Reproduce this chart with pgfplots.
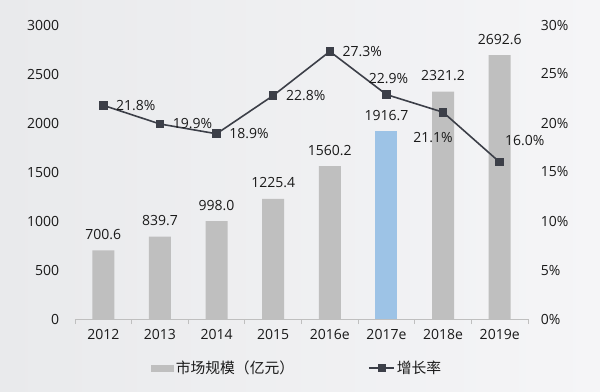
\documentclass[border=0pt]{standalone}
\usepackage{pgfplots}
\pgfplotsset{compat=1.18}
\usepackage{fontspec}
\setmainfont{Open Sans}
\newfontfamily\cjk{Noto Sans CJK SC}
\definecolor{barGray}{HTML}{BFBFBF}
\definecolor{barBlue}{HTML}{9DC3E6}
\definecolor{lineC}{HTML}{3C3F48}
\definecolor{axGray}{HTML}{BFBFBF}
\definecolor{txt}{HTML}{1A1A1A}
\definecolor{bgL}{HTML}{E9EAEC}
\definecolor{bgR}{HTML}{F5F5F7}
\newcommand{\fs}{\fontsize{14bp}{17bp}\selectfont}
\newcommand{\fc}{\cjk\fontsize{14.8bp}{17bp}\selectfont}
\begin{document}
\fs
\begin{tikzpicture}
\path[use as bounding box] (-75bp,-73bp) rectangle (525bp,319bp);
\shade[left color=bgL, right color=bgR] (-75bp,-73bp) rectangle (525bp,319bp);
\begin{axis}[
  at={(0,0)}, anchor=south west,
  scale only axis, width=453bp, height=294bp,
  xmin=-0.5, xmax=7.5, ymin=0, ymax=3000,
  enlargelimits=false,
  axis x line*=bottom, axis y line*=left,
  y axis line style={draw=none},
  x axis line style={draw=axGray, line width=0.8bp, -},
  xtick={0,...,7},
  xticklabels={2012,2013,2014,2015,2016e,2017e,2018e,2019e},
  major x tick style={draw=none},
  extra x ticks={-0.5,0.5,...,7.5},
  extra x tick labels={},
  extra x tick style={major tick length=5bp, xtick align=outside, major x tick style={draw=axGray, line width=0.8bp}},
  ytick={0,500,...,3000},
  major y tick style={draw=none},
  /pgf/number format/assume math mode=true,
  /pgf/number format/1000 sep={},
  tick label style={font=\fs, text=txt},
  yticklabel style={xshift=-11bp},
  xticklabel style={yshift=-1bp},
  ybar, bar width=22bp,
  legend columns=2,
  legend style={draw=none, fill=none, at={(0.49,-0.167)}, anchor=center,
    font=\fc, text=txt,
    /tikz/every even column/.append style={column sep=72bp}},
  nodes near coords style={font=\fs, text=txt, yshift=6bp},
]
\addplot[fill=barGray, draw=none, bar shift=0pt, point meta=explicit symbolic, nodes near coords,
  legend image code/.code={\fill[barGray] (0bp,-3.5bp) rectangle (23bp,3.5bp);}]
  coordinates {(0,700.6)[700.6] (1,839.7)[839.7] (2,998.0)[998.0] (3,1225.4)[1225.4]
    (4,1560.2)[1560.2] (6,2321.2)[2321.2] (7,2692.6)[2692.6]};
\addlegendentry{市场规模（亿元）}
\addplot[fill=barBlue, draw=none, bar shift=0pt, point meta=explicit symbolic, nodes near coords, forget plot]
  coordinates {(5,1916.7)[1916.7]};
\addlegendimage{legend image code/.code={\draw[lineC, line width=1.6bp] (0bp,0bp) -- (25bp,0bp); \fill[lineC] (9bp,-3.5bp) rectangle (16bp,3.5bp);}}
\addlegendentry{增长率}
\end{axis}
\begin{axis}[
  at={(0,0)}, anchor=south west,
  scale only axis, width=453bp, height=294bp,
  xmin=-0.5, xmax=7.5, ymin=0, ymax=30,
  enlargelimits=false, clip=false,
  hide x axis,
  axis y line*=right,
  y axis line style={draw=none},
  ytick={0,5,...,30},
  major y tick style={draw=none},
  /pgf/number format/assume math mode=true,
  yticklabel={\pgfmathprintnumber{\tick}\%},
  tick label style={font=\fs, text=txt},
  yticklabel style={xshift=8bp},
]
\addplot[lineC, line width=1.6bp, mark=square*, mark size=3.5bp, mark options={fill=lineC, draw=lineC}]
  coordinates {(0,21.8) (1,19.9) (2,18.9) (3,22.8) (4,27.3) (5,22.9) (6,21.1) (7,16.0)};
\begin{scope}[every node/.style={font=\fs, text=txt}]
\node[anchor=west, xshift=8bp] at (axis cs:0,21.8) {21.8\%};
\node[anchor=west, xshift=8bp] at (axis cs:1,19.9) {19.9\%};
\node[anchor=west, xshift=8bp] at (axis cs:2,18.9) {18.9\%};
\node[anchor=west, xshift=8bp] at (axis cs:3,22.8) {22.8\%};
\node[anchor=west, xshift=8bp] at (axis cs:4,27.3) {27.3\%};
\node[xshift=2bp, yshift=16bp] at (axis cs:5,22.9) {22.9\%};
\node[xshift=-10bp, yshift=-25bp] at (axis cs:6,21.1) {21.1\%};
\node[xshift=25bp, yshift=22bp] at (axis cs:7,16.0) {16.0\%};
\end{scope}
\end{axis}
\end{tikzpicture}
\end{document}
